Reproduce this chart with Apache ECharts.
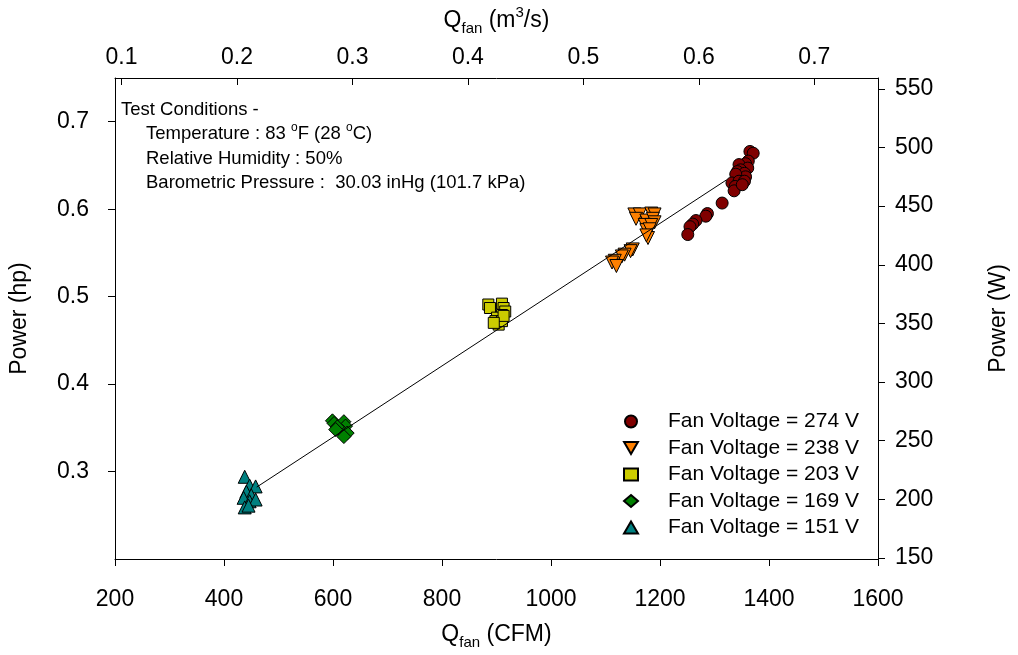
<!DOCTYPE html>
<html>
<head>
<meta charset="utf-8">
<script src="https://cdn.jsdelivr.net/npm/echarts@6/dist/echarts.min.js"></script>
<style>html,body{margin:0;padding:0;background:#fff}#c{width:1018px;height:655px}</style>
</head>
<body>
<div id="c"></div>
<script>
// ---- data (CFM, hp) ----
const cfm274 = [1365, 1371, 1362, 1357, 1345, 1361, 1348, 1342, 1355, 1357, 1339, 1332, 1345, 1355, 1338, 1336, 1351, 1314, 1287, 1284, 1266, 1260, 1255, 1251];
const hp274  = [0.666, 0.664, 0.655, 0.652, 0.651, 0.647, 0.645, 0.643, 0.641, 0.637, 0.640, 0.630, 0.632, 0.632, 0.626, 0.621, 0.628, 0.607, 0.595, 0.592, 0.587, 0.583, 0.580, 0.571];
const cfm238 = [1153, 1163, 1184, 1190, 1156, 1175, 1187, 1190, 1172, 1184, 1175, 1181, 1178, 1175, 1150, 1146, 1135, 1130, 1117, 1112, 1120];
const hp238  = [0.594, 0.594, 0.595, 0.594, 0.589, 0.587, 0.589, 0.585, 0.582, 0.582, 0.576, 0.577, 0.567, 0.570, 0.554, 0.552, 0.548, 0.546, 0.541, 0.539, 0.535];
const cfm203 = [885, 888, 910, 913, 916, 910, 901, 898, 904, 910, 913, 895];
const hp203  = [0.491, 0.487, 0.492, 0.487, 0.483, 0.479, 0.476, 0.472, 0.468, 0.472, 0.478, 0.470];
const cfm169 = [599, 602, 620, 623, 611, 617, 626, 608, 605, 620];
const hp169  = [0.358, 0.355, 0.357, 0.352, 0.348, 0.346, 0.344, 0.351, 0.348, 0.340];
const cfm151 = [438, 447, 458, 441, 450, 436, 447, 458, 438, 445];
const hp151  = [0.294, 0.284, 0.283, 0.277, 0.273, 0.270, 0.266, 0.268, 0.259, 0.261];
const fitCFM = [460, 1322];
const fitHp  = [0.2822, 0.6335];
const seriesNames = ['Fan Voltage = 274 V', 'Fan Voltage = 238 V', 'Fan Voltage = 203 V', 'Fan Voltage = 169 V', 'Fan Voltage = 151 V'];
// ---- tick labels ----
const leftTicks = [0.3, 0.4, 0.5, 0.6, 0.7];
const rightTicks = [150, 200, 250, 300, 350, 400, 450, 500, 550];
const topTicks = [0.1, 0.2, 0.3, 0.4, 0.5, 0.6, 0.7];
const noteLines = ['Test Conditions -', 'Temperature : 83 {sup|o}F (28 {sup|o}C)', 'Relative Humidity : 50%', 'Barometric Pressure :  30.03 inHg (101.7 kPa)'];

// unit conversions for secondary axes
const HP_TO_W = 745.7;
const CFM_TO_M3S = 0.000471947;
const HP_MIN = 0.2, HP_MAX = 0.75, CFM_MIN = 200, CFM_MAX = 1600;

const FONT = '"Liberation Sans", Arial, Helvetica, sans-serif';
const pair = (xs, ys) => xs.map((x, i) => [x, ys[i]]);
const axisLineStyle = { show: true, lineStyle: { color: '#000', width: 1 } };
const tickStyle = { show: true, length: 7, lineStyle: { color: '#000', width: 1 } };
const lblStyle = { color: '#000', fontSize: 23, fontFamily: FONT };
const nameRich = {
  n: { fontSize: 23, lineHeight: 31, fontFamily: FONT, color: '#000' },
  sub: { fontSize: 15, lineHeight: 15, verticalAlign: 'bottom', fontFamily: FONT, color: '#000' },
  sup: { fontSize: 15, lineHeight: 15, verticalAlign: 'top', fontFamily: FONT, color: '#000' }
};
const nameStyle = { fontSize: 23, color: '#000', fontFamily: FONT, rich: nameRich };

const styles = [
  { color: '#800000', symbol: 'circle', size: 12, rotate: 0, icon: 'circle' },
  { color: '#ff8000', symbol: 'triangle', size: 13, rotate: 180, icon: 'path://M0,0L2,0L1,1.732Z' },
  { color: '#cccc00', symbol: 'rect', size: 11, rotate: 0, icon: 'rect' },
  { color: '#008000', symbol: 'diamond', size: 14, rotate: 0, icon: 'diamond' },
  { color: '#008080', symbol: 'triangle', size: 13, rotate: 0, icon: 'triangle' }
];
const dataSets = [pair(cfm274, hp274), pair(cfm238, hp238), pair(cfm203, hp203), pair(cfm169, hp169), pair(cfm151, hp151)];

const series = dataSets.map((d, i) => ({
  name: seriesNames[i], type: 'scatter', xAxisIndex: 0, yAxisIndex: 0,
  data: d, symbol: styles[i].symbol, symbolSize: styles[i].size, symbolRotate: styles[i].rotate,
  itemStyle: { color: styles[i].color, borderColor: '#000', borderWidth: 1, opacity: 1 },
  emphasis: { disabled: true }, animation: false
}));
series.push({
  type: 'line', xAxisIndex: 0, yAxisIndex: 0, data: pair(fitCFM, fitHp),
  showSymbol: false, lineStyle: { color: '#000', width: 1 }, animation: false, z: 3
});

const noteY = [110, 134, 158.5, 182.5];
const noteX = [121, 146, 146, 146];
const graphic = noteLines.map((t, i) => ({
  type: 'text', x: noteX[i], y: noteY[i],
  style: {
    text: '{n|' + t.replace(/\{sup\|o\}/g, '}{sup|o}{n|') + '}',
    verticalAlign: 'middle', align: 'left',
    rich: {
      n: { fontSize: 18.5, lineHeight: 24, fontFamily: FONT, fill: '#000', color: '#000' },
      sup: { fontSize: 12, lineHeight: 12, verticalAlign: 'top', fontFamily: FONT, fill: '#000', color: '#000' }
    }
  }
}));

const chart = echarts.init(document.getElementById('c'), null, { renderer: 'canvas' });
chart.setOption({
  backgroundColor: '#fff',
  animation: false,
  grid: { left: 115, right: 137, top: 72, bottom: 89, containLabel: false },
  legend: {
    orient: 'vertical', left: 618, top: 406,
    itemWidth: 14, itemHeight: 12, itemGap: 5.5,
    data: seriesNames.map((n, i) => ({ name: n, icon: styles[i].icon })),
    textStyle: { fontSize: 21, color: '#000', fontFamily: FONT, padding: [0, 0, 0, 25] },
    selectedMode: false
  },
  xAxis: [
    {
      type: 'value', position: 'bottom', min: CFM_MIN, max: CFM_MAX, interval: 200,
      axisLine: axisLineStyle, axisTick: tickStyle, splitLine: { show: false },
      axisLabel: Object.assign({ margin: 29, formatter: v => String(v) }, lblStyle),
      name: '{n|Q}{sub|fan}{n| (CFM)}', nameLocation: 'middle', nameGap: 60, nameTextStyle: nameStyle
    },
    {
      type: 'value', position: 'top', min: CFM_MIN * CFM_TO_M3S, max: CFM_MAX * CFM_TO_M3S,
      axisLine: axisLineStyle,
      axisTick: Object.assign({}, tickStyle, { inside: true, customValues: topTicks }),
      splitLine: { show: false },
      axisLabel: Object.assign({ margin: 9, customValues: topTicks, formatter: v => Number(v).toFixed(1) }, lblStyle),
      name: '{n|Q}{sub|fan}{n| (m}{sup|3}{n|/s)}', nameLocation: 'middle', nameGap: 42, nameTextStyle: nameStyle
    }
  ],
  yAxis: [
    {
      type: 'value', position: 'left', min: HP_MIN, max: HP_MAX,
      axisLine: axisLineStyle,
      axisTick: Object.assign({}, tickStyle, { customValues: leftTicks }),
      splitLine: { show: false },
      axisLabel: Object.assign({ margin: 26, customValues: leftTicks, formatter: v => Number(v).toFixed(1) }, lblStyle),
      name: 'Power (hp)', nameLocation: 'middle', nameGap: 84, nameRotate: 90,
      nameTextStyle: { fontSize: 23, color: '#000', fontFamily: FONT }
    },
    {
      type: 'value', position: 'right', min: HP_MIN * HP_TO_W, max: HP_MAX * HP_TO_W,
      axisLine: axisLineStyle,
      axisTick: Object.assign({}, tickStyle, { customValues: rightTicks }),
      splitLine: { show: false },
      axisLabel: Object.assign({ margin: 17, customValues: rightTicks }, lblStyle),
      name: 'Power (W)', nameLocation: 'middle', nameGap: 109, nameRotate: 90,
      nameTextStyle: { fontSize: 23, color: '#000', fontFamily: FONT }
    }
  ],
  graphic: graphic,
  series: series
});
</script>
</body>
</html>
